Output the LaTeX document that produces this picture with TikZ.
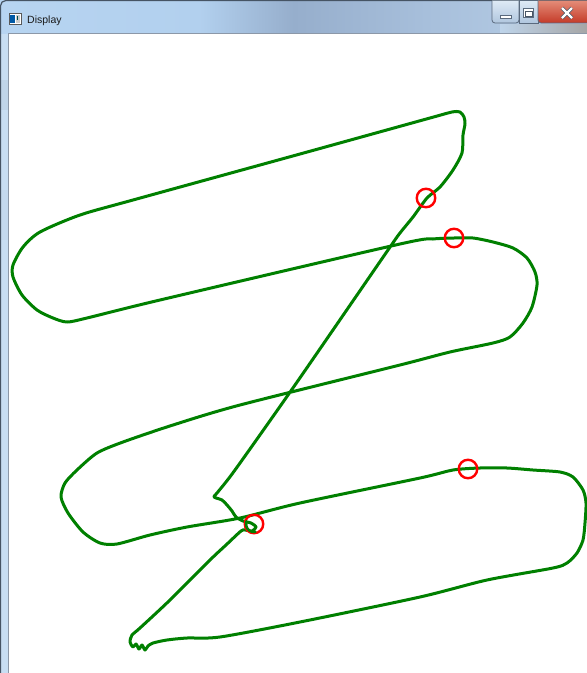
\documentclass[tikz,border=0pt]{standalone}
\usepackage{fontspec}
\setmainfont{Liberation Sans}
\definecolor{tbA}{RGB}{190,218,245}
\definecolor{tbB}{RGB}{178,208,238}
\definecolor{tbC}{RGB}{150,174,204}
\definecolor{tbD}{RGB}{168,192,220}
\definecolor{tbE}{RGB}{190,212,234}
\definecolor{frameblue}{RGB}{200,222,243}
\definecolor{frameedge}{RGB}{70,84,100}
\definecolor{clientedge}{RGB}{140,152,168}
\definecolor{curvegreen}{RGB}{0,128,0}
\definecolor{markred}{RGB}{255,0,0}
\definecolor{btnedge}{RGB}{90,106,126}
\definecolor{btntop}{RGB}{222,234,246}
\definecolor{btnbot}{RGB}{176,198,222}
\definecolor{closetop}{RGB}{228,140,120}
\definecolor{closebot}{RGB}{196,58,40}
\definecolor{titletext}{RGB}{25,25,25}
\pgfdeclarehorizontalshading{titlebar}{100bp}{color(0bp)=(tbA); color(42bp)=(tbB); color(50bp)=(tbC); color(62bp)=(tbD); color(80bp)=(tbE); color(100bp)=(tbD)}
\tikzset{
  trace/.style={draw=curvegreen, line width=3pt, line join=round, line cap=round},
  marker/.style={draw=markred, line width=2.4pt},
  winbtn/.style={draw=btnedge, line width=0.8pt, top color=btntop, bottom color=btnbot},
  closebtn/.style={draw=btnedge, line width=0.8pt, top color=closetop, bottom color=closebot}
}
\begin{document}
\begin{tikzpicture}[x=1pt,y=-1pt]
\useasboundingbox (0,0) rectangle (587,673);
% window frame
\fill[frameblue] (0,0) rectangle (587,673);
\shade[shading=titlebar] (0,0) rectangle (587,33);
\fill[frameblue!80!black!20!frameblue] (0,80) rectangle (8,110);
\fill[frameblue!85!black!15!frameblue] (0,190) rectangle (8,240);
\draw[frameedge, line width=1.2pt, rounded corners=5pt] (0.6,673) -- (0.6,0.6) -- (587,0.6);
% title bar lower strip near buttons
\shade[left color=tbE, right color=gray!70] (500,24) rectangle (587,32);
% client area
\fill[white] (8,33.5) rectangle (587,673);
\draw[clientedge, line width=0.9pt] (8,673) -- (8,33.5) -- (587,33.5);
% icon
\draw[gray!70!black, line width=0.6pt, fill=white] (9,13) rectangle (21,24);
\fill[teal!70!blue] (10,15) rectangle (15,23);
\fill[gray!40] (16,15) rectangle (20,23);
\fill[teal!60!black] (17.2,16) rectangle (18.4,20);
% title
\node[anchor=base west, inner sep=0pt, text=titletext, font=\fontsize{10.5}{12}\selectfont] (title) at (27,23) {Display};
% buttons
\draw[winbtn, rounded corners=3pt] (492,0.5) -- (492,23) -- (519,23) -- (519,0.5);
\draw[winbtn] (519,0.5) rectangle (538,23);
\draw[closebtn, rounded corners=3pt] (538,0.5) -- (538,23) -- (590,23) -- (590,0.5);
\draw[btnedge, fill=white, line width=0.7pt] (500,15) rectangle (511,18);
\draw[btnedge, fill=white, line width=0.7pt] (523.5,8.5) rectangle (533.5,17.5);
\draw[btnedge!80!black, fill=white, line width=0.5pt] (525,11) rectangle (532,16);
\draw[btnedge!80!black, line width=3.6pt] (562,8) -- (572,18) (562,18) -- (572,8);
\draw[white, line width=2.2pt] (562,8) -- (572,18) (562,18) -- (572,8);
% traced curve
\draw[trace] plot[smooth cycle, tension=0.45] coordinates {
(40,232) (80,215) (133,200) (300,154) (430,118) (452,112) (460,112) (464,117)
(465,124) (463,135) (462,153) (453,170) (440,187) (427,198) (413,217) (400,233)
(388,250) (295,385) (235,470) (217,493) (214,497) (222,500) (227,505) (232,511)
(236,517) (243,521) (251,523) (256,527) (252,531) (245,530) (241,531) (226,545)
(210,560) (170,600) (140,628) (132,635) (130,642) (133,647) (136,644) (139,649)
(142,645) (145,650) (148,646) (153,643) (167,640) (187,638) (220,637) (300,622)
(420,597) (487,580) (553,568) (567,563) (577,553) (583,540) (585,523) (586,503)
(583,490) (573,477) (560,472) (533,470) (507,468) (480,468) (453,470) (420,478)
(300,503) (240,518) (187,527) (150,535) (117,544) (100,543) (83,532) (68,513)
(61,497) (65,483) (77,470) (97,453) (123,442) (173,425) (240,405) (400,365)
(450,352) (493,343) (510,337) (523,323) (532,307) (537,285) (535,272) (527,258)
(513,248) (493,242) (473,238) (454,238) (433,239) (400,244) (160,300) (87,318)
(67,322) (53,318) (37,310) (22,295) (13,277) (13,265) (23,247)
};
% markers
\node[marker, circle, minimum size=18.5pt, inner sep=0pt] (m1) at (426,198) {};
\node[marker, circle, minimum size=18.5pt, inner sep=0pt] (m2) at (454,238) {};
\node[marker, circle, minimum size=18.5pt, inner sep=0pt] (m3) at (468,469) {};
\node[marker, circle, minimum size=18.5pt, inner sep=0pt] (m4) at (254,524) {};
\draw[trace, line width=2.6pt] (254,524) ++(80:8) arc[start angle=80, end angle=200, radius=8];
\end{tikzpicture}
\end{document}
